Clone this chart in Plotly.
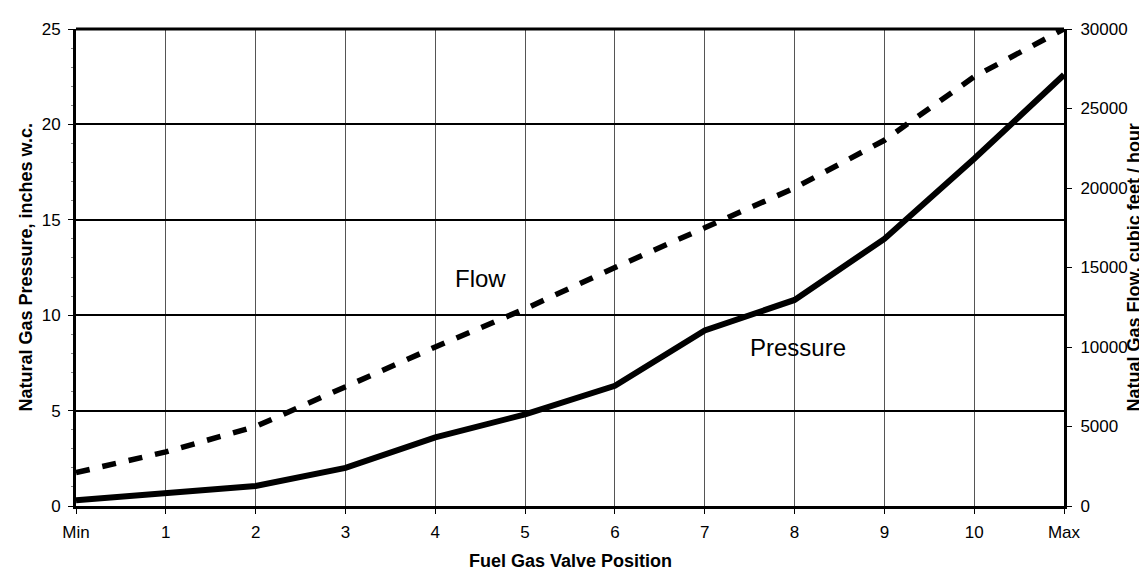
import plotly.graph_objects as go

positions = ["Min", "1", "2", "3", "4", "5", "6", "7", "8", "9", "10", "Max"]
pressure = [0.3, 0.7, 1.05, 2.0, 3.6, 4.8, 6.3, 9.2, 10.8, 14.0, 18.2, 22.6]
flow = [2100, 3400, 5000, 7500, 10000, 12400, 15000, 17500, 20000, 23000, 27000, 30000]

FONT = "Liberation Sans, Arial, sans-serif"

fig = go.Figure()
fig.add_trace(go.Scatter(x=positions, y=pressure, mode="lines", name="Pressure",
                         line=dict(color="black", width=6), yaxis="y"))
fig.add_trace(go.Scatter(x=positions, y=flow, mode="lines", name="Flow",
                         line=dict(color="black", width=5.5, dash="14px,13px"), yaxis="y2"))

def label(text, x, y, xref, yref, size, angle=0):
    return dict(text=text, x=x, y=y, xref=xref, yref=yref, showarrow=False,
                xanchor="center", yanchor="middle", textangle=angle,
                font=dict(size=size))

fig.update_layout(
    width=1147, height=571,
    margin=dict(l=68, r=91, t=15, b=73),
    paper_bgcolor="white", plot_bgcolor="white",
    showlegend=False,
    font=dict(family=FONT, size=17, color="black"),
    xaxis=dict(
        type="category", categoryorder="array", categoryarray=positions,
        range=[0, 11], showgrid=True, gridcolor="#555", gridwidth=1,
        showline=True, linecolor="black", linewidth=3, mirror=False,
        ticks="outside", ticklen=5, tickcolor="black", ticklabelstandoff=4,
        tickfont=dict(size=17), zeroline=False,
    ),
    yaxis=dict(
        range=[0, 25], dtick=5, showgrid=True, gridcolor="black", gridwidth=2,
        showline=True, linecolor="black", linewidth=3,
        ticks="outside", ticklen=5, tickcolor="black", ticklabelstandoff=4,
        minor=dict(dtick=1, ticks="outside", ticklen=2, tickcolor="#888"),
        tickfont=dict(size=17), zeroline=False,
    ),
    yaxis2=dict(
        range=[0, 30000], dtick=5000, overlaying="y", side="right",
        tickformat="d",
        showgrid=False, showline=True, linecolor="black", linewidth=3,
        ticks="outside", ticklen=5, tickcolor="black", ticklabelstandoff=5,
        tickfont=dict(size=17), zeroline=False,
    ),
    shapes=[dict(type="line", xref="paper", yref="paper", x0=0, x1=1, y0=1, y1=1,
                 line=dict(color="black", width=3))],
    annotations=[
        label("Flow", 4.5, 11.9, "x", "y", 24),
        label("Pressure", 8.04, 8.3, "x", "y", 24),
        label("<b>Fuel Gas Valve Position</b>", 0.5, (498 - 554) / 483,
              "paper", "paper", 18),
        label("<b>Natural Gas Pressure, inches w.c.</b>", (17 - 68) / 988, 0.5,
              "paper", "paper", 18, -90),
        label("<b>Natual Gas Flow, cubic feet / hour</b>", (1125 - 68) / 988, 0.5,
              "paper", "paper", 18, -90),
    ],
)

fig.write_html("out.html")
